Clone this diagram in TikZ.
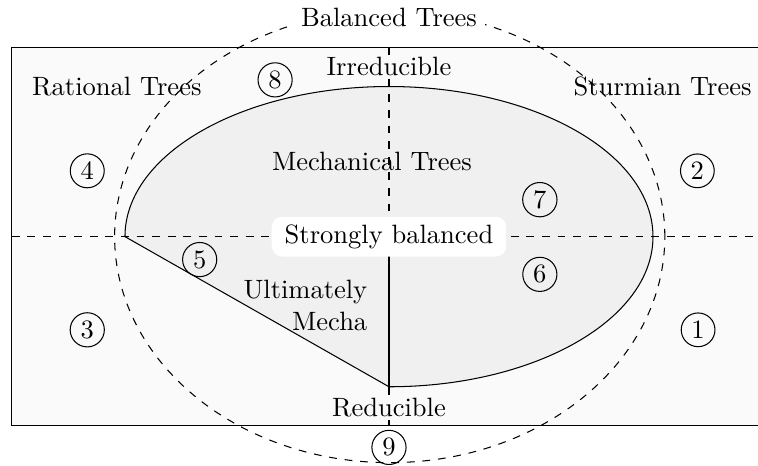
\documentclass[tikz,border=0pt]{standalone}
\usepackage{tikz}

\colorlet{bgcol}{black!2}
\colorlet{mechcol}{black!6}
\tikzset{
  num/.style={circle, draw, inner sep=1.6pt},
  cut/.style={fill=bgcol, inner sep=1pt},
}

\begin{document}
\begin{tikzpicture}[font=\fontsize{10.2}{12.5}\selectfont]
    \clip (-5.26,-3.10) rectangle (4.99,3.20);

    % cadre des arbres rationnels / sturmiens
    \draw[fill=bgcol] (-5.10,-2.555) rectangle (5.10,2.555);

    % arbres mecaniques
    \draw[fill=mechcol] (0,-2.03) arc[start angle=-90, end angle=180, x radius=3.57, y radius=2.03] -- cycle;

    % axes
    \coordinate (W) at (-5.10,0);
    \coordinate (E) at (5.10,0);
    \coordinate (N) at (0,2.555);
    \coordinate (O) at (0,0);
    \coordinate (B) at (0,-2.03);
    \coordinate (S) at (0,-2.555);
    \draw[dashed] (W) -- (E);
    \draw[dashed] (N) -- (O);
    \draw (O) -- (B);
    \draw[dashed] (B) -- (S);

    % arbres equilibres
    \draw[dashed] (0.01,0) ellipse [x radius=3.72, y radius=3.056];

    \node[fill=white, inner sep=3pt] (bal) at (0,2.96) {Balanced Trees};
    \node[cut] (irr) at (0,2.30) {Irreducible};
    \node[cut] (red) at (0,-2.31) {Reducible};
    \node (rat) at (-3.68,2.03) {Rational Trees};
    \node (stu) at (3.70,2.03) {Sturmian Trees};
    \node (mec) at (-0.23,1.01) {Mechanical Trees};
    \node[align=right, anchor=east] (ult) at (-0.17,-0.93) {Ultimately\\Mecha};
    \node[fill=white, rounded corners=4pt, inner xsep=5pt, inner ysep=3pt] (str) at (0,0) {Strongly balanced};

    \node[num] (n1) at (4.18,-1.26) {1};
    \node[num] (n2) at (4.17,0.89) {2};
    \node[num] (n3) at (-4.08,-1.26) {3};
    \node[num] (n4) at (-4.08,0.89) {4};
    \node[num] (n5) at (-2.56,-0.31) {5};
    \node[num] (n6) at (2.04,-0.51) {6};
    \node[num] (n7) at (2.04,0.50) {7};
    \node[num] (n8) at (-1.54,2.12) {8};
    \node[num] (n9) at (0,-2.85) {9};
\end{tikzpicture}
\end{document}
